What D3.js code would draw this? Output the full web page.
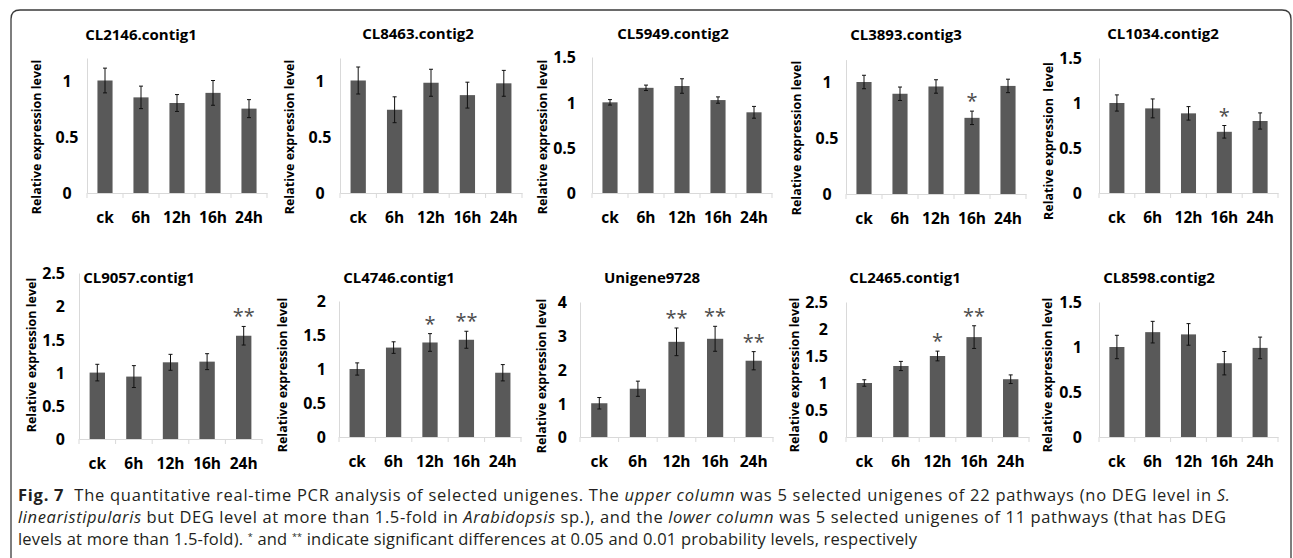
<!DOCTYPE html>
<html><head><meta charset="utf-8">
<script src="https://cdn.jsdelivr.net/npm/d3@7"></script>
<style>body{margin:0;background:#fff}svg{display:block}</style>
</head><body>
<svg id="chart" width="1293" height="558"></svg>
<script>
// ---------- data ----------
const categories = ["ck", "6h", "12h", "16h", "24h"];
const geneNames = ["CL2146.contig1", "CL8463.contig2", "CL5949.contig2", "CL3893.contig3", "CL1034.contig2",
                   "CL9057.contig1", "CL4746.contig1", "Unigene9728", "CL2465.contig1", "CL8598.contig2"];
const meanValues = [
  [1.00, 0.85, 0.80, 0.89, 0.75],
  [1.00, 0.74, 0.98, 0.87, 0.975],
  [1.00, 1.16, 1.18, 1.025, 0.89],
  [1.00, 0.895, 0.96, 0.68, 0.965],
  [1.00, 0.94, 0.885, 0.68, 0.80],
  [1.00, 0.94, 1.155, 1.165, 1.555],
  [1.00, 1.315, 1.39, 1.43, 0.945],
  [1.00, 1.43, 2.82, 2.91, 2.26],
  [1.00, 1.315, 1.50, 1.85, 1.07],
  [1.00, 1.165, 1.14, 0.82, 0.99]
];
const errorValues = [
  [0.11, 0.10, 0.075, 0.11, 0.08],
  [0.12, 0.115, 0.12, 0.115, 0.115],
  [0.03, 0.03, 0.08, 0.035, 0.065],
  [0.06, 0.06, 0.06, 0.06, 0.06],
  [0.09, 0.105, 0.075, 0.07, 0.09],
  [0.125, 0.165, 0.12, 0.12, 0.14],
  [0.09, 0.085, 0.13, 0.125, 0.12],
  [0.17, 0.225, 0.41, 0.37, 0.27],
  [0.06, 0.085, 0.09, 0.21, 0.08],
  [0.13, 0.12, 0.12, 0.13, 0.12]
];
const significance = [
  ["", "", "", "", ""],
  ["", "", "", "", ""],
  ["", "", "", "", ""],
  ["", "", "", "*", ""],
  ["", "", "", "*", ""],
  ["", "", "", "", "**"],
  ["", "", "*", "**", ""],
  ["", "", "**", "**", "**"],
  ["", "", "*", "**", ""],
  ["", "", "", "", ""]
];
const yMaxValues = [1.2, 1.2, 1.5, 1.2, 1.5, 2.5, 2, 4, 2.5, 1.5];
const yTickValues = [
  [0, 0.5, 1], [0, 0.5, 1], [0, 0.5, 1, 1.5], [0, 0.5, 1], [0, 0.5, 1, 1.5],
  [0, 0.5, 1, 1.5, 2, 2.5], [0, 0.5, 1, 1.5, 2], [0, 1, 2, 3, 4], [0, 0.5, 1, 1.5, 2, 2.5], [0, 0.5, 1, 1.5]
];
const yAxisTitles = ["Relative expression level", "Relative expression level", "Relative expression level",
  "Relative expression level", "Relative expression  level", "Relative expression level",
  "Relative expression level", "Relative expression level", "Relative expression level", "Relative expression level"];

// ---------- layout (positions only) ----------
const layout = [
  {x: 87,   w: 180, top: 58,   bottom: 193, tx: 141,  ty: 40,  lx: 37,   ly: 137, align: "middle", off: 20},
  {x: 340,  w: 182, top: 58,   bottom: 193, tx: 418,  ty: 39,  lx: 290,  ly: 137, align: "middle", off: 20},
  {x: 592,  w: 180, top: 57,   bottom: 193, tx: 673,  ty: 39,  lx: 543,  ly: 137, align: "end",    off: 16},
  {x: 846,  w: 180, top: 59.6, bottom: 194, tx: 906,  ty: 40,  lx: 797,  ly: 138, align: "middle", off: 19},
  {x: 1099, w: 179, top: 58,   bottom: 193, tx: 1163, ty: 39,  lx: 1049, ly: 141, align: "end",    off: 17},
  {x: 79,   w: 183, top: 273,  bottom: 439, tx: 139,  ty: 283, lx: 32,   ly: 355, align: "end",    off: 14},
  {x: 339,  w: 182, top: 301,  bottom: 437, tx: 399,  ty: 283, lx: 283,  ly: 375, align: "end",    off: 13},
  {x: 580,  w: 193, top: 302,  bottom: 437, tx: 652,  ty: 283, lx: 542,  ly: 376, align: "end",    off: 13},
  {x: 846,  w: 183, top: 302,  bottom: 437, tx: 905,  ty: 283, lx: 795,  ly: 375, align: "end",    off: 18},
  {x: 1099, w: 179, top: 302,  bottom: 437, tx: 1159, ty: 283, lx: 1048, ly: 375, align: "end",    off: 17}
];

const FONT = "'Open Sans', 'DejaVu Sans', sans-serif";
const BAR = "#595959", AXIS = "#d9d9d9";
const svg = d3.select("#chart");

// frame
svg.append("path")
  .attr("d", "M11,560 V19 Q11,10 20,10 H1282 Q1291,10 1291,19 V560")
  .attr("fill", "none").attr("stroke", "#3a3a3a").attr("stroke-width", 1.3);

geneNames.forEach((name, p) => {
  const L = layout[p];
  const g = svg.append("g");
  const x = d3.scaleBand().domain(categories).range([L.x, L.x + L.w]).paddingInner(0.58).paddingOuter(0.29);
  const y = d3.scaleLinear().domain([0, yMaxValues[p]]).range([L.bottom, L.top]);

  // y axis
  const ya = g.append("g").attr("transform", `translate(${L.x},0)`)
    .call(d3.axisLeft(y).tickValues(yTickValues[p]).tickSize(0).tickSizeOuter(0).tickFormat(d3.format("")));
  ya.select(".domain").attr("stroke", AXIS);
  ya.selectAll("text").attr("font-family", FONT).attr("font-weight", "bold").attr("font-size", 16)
    .attr("fill", "#000").attr("text-anchor", L.align).attr("x", -L.off).attr("dy", "0.36em");

  // x axis
  const xa = g.append("g").attr("transform", `translate(0,${L.bottom})`)
    .call(d3.axisBottom(x).tickSize(0).tickSizeOuter(0));
  xa.select(".domain").attr("stroke", AXIS);
  xa.selectAll("text").attr("font-family", FONT).attr("font-weight", "bold").attr("font-size", 15.5)
    .attr("fill", "#000").attr("y", 30).attr("dy", 0);
  // boundary tick marks
  const step = x.step();
  g.selectAll(".bt").data(d3.range(categories.length + 1)).join("line")
    .attr("x1", i => L.x + i * step).attr("x2", i => L.x + i * step)
    .attr("y1", L.bottom).attr("y2", L.bottom + 5).attr("stroke", AXIS);

  const rows = categories.map((c, i) => ({c, m: meanValues[p][i], e: errorValues[p][i], s: significance[p][i]}));

  // bars
  g.selectAll(".bar").data(rows).join("rect")
    .attr("x", d => x(d.c)).attr("width", x.bandwidth())
    .attr("y", d => y(d.m)).attr("height", d => y(0) - y(d.m))
    .attr("fill", BAR);

  // error bars
  const eb = g.selectAll(".eb").data(rows).join("g");
  const cx = d => x(d.c) + x.bandwidth() / 2;
  eb.append("line").attr("x1", cx).attr("x2", cx)
    .attr("y1", d => y(d.m - d.e)).attr("y2", d => y(d.m + d.e)).attr("stroke", "#111").attr("stroke-width", 1);
  eb.append("line").attr("x1", d => cx(d) - 2).attr("x2", d => cx(d) + 2)
    .attr("y1", d => y(d.m + d.e)).attr("y2", d => y(d.m + d.e)).attr("stroke", "#111");
  eb.append("line").attr("x1", d => cx(d) - 2).attr("x2", d => cx(d) + 2)
    .attr("y1", d => y(d.m - d.e)).attr("y2", d => y(d.m - d.e)).attr("stroke", "#111");

  // significance marks
  g.selectAll(".sig").data(rows.filter(d => d.s)).join("text")
    .attr("x", cx).attr("y", d => y(d.m + d.e) - 3)
    .attr("text-anchor", "middle").attr("font-family", FONT).attr("font-size", 20)
    .attr("fill", "#4d4d4d").text(d => d.s);

  // title
  g.append("text").attr("x", L.tx).attr("y", L.ty).attr("text-anchor", "middle")
    .attr("font-family", FONT).attr("font-weight", "bold").attr("font-size", 15).attr("fill", "#000")
    .text(name);

  // y axis title
  g.append("text").attr("transform", `translate(${L.lx + 4},${L.ly}) rotate(-90)`)
    .attr("text-anchor", "middle").attr("font-family", FONT).attr("font-weight", "bold")
    .attr("font-size", 12.5).attr("fill", "#000").style("white-space", "pre")
    .text(yAxisTitles[p]);
});

// ---------- caption ----------
const captionLines = [
  {y: 501, len: 1212, parts: [
    ["Fig. 7", "b"], ["  The quantitative real-time PCR analysis of selected unigenes. The ", ""],
    ["upper column", "i"], [" was 5 selected unigenes of 22 pathways (no DEG level in ", ""], ["S.", "i"]]},
  {y: 523, len: 1208, parts: [
    ["linearistipularis", "i"], [" but DEG level at more than 1.5-fold in ", ""], ["Arabidopsis", "i"],
    [" sp.), and the ", ""], ["lower column", "i"], [" was 5 selected unigenes of 11 pathways (that has DEG", ""]]},
  {y: 545, len: 899, parts: [
    ["levels at more than 1.5-fold). ", ""], ["*", "sup"], [" and ", ""], ["**", "sup"],
    [" indicate significant differences at 0.05 and 0.01 probability levels, respectively", ""]]}
];
captionLines.forEach(line => {
  const t = svg.append("text").attr("x", 18).attr("y", line.y)
    .attr("font-family", FONT).attr("font-size", 16.5).attr("fill", "#231f20")
    .attr("textLength", line.len).attr("lengthAdjust", "spacing").style("white-space", "pre");
  line.parts.forEach(([txt, st]) => {
    const s = t.append("tspan").text(txt);
    if (st === "b") s.attr("font-weight", "bold");
    if (st === "i") s.attr("font-style", "italic");
    if (st === "sup") s.attr("font-size", 9).attr("baseline-shift", "55%");
  });
});
</script>
</body></html>
